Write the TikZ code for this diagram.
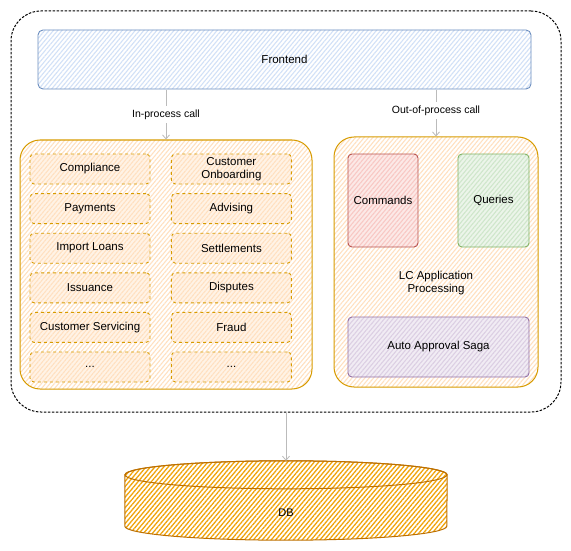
\documentclass[tikz,border=0pt]{standalone}
\usepackage{fontspec}
\setmainfont{Liberation Sans}
\usepackage{tikz}
\usetikzlibrary{patterns.meta}
\usetikzlibrary{arrows.meta}
\usetikzlibrary {positioning}
\definecolor{feline}{HTML}{6C8EBF}
\definecolor{fefill}{HTML}{D2E1F7}
\definecolor{orline}{HTML}{D79B00}
\definecolor{orfill}{HTML}{FFE0C0}
\definecolor{redline}{HTML}{B85450}
\definecolor{redfill}{HTML}{F8C8C4}
\definecolor{grline}{HTML}{82B366}
\definecolor{grfill}{HTML}{CFE6CB}
\definecolor{puline}{HTML}{9673A6}
\definecolor{pufill}{HTML}{DCCFE3}
\definecolor{dbline}{HTML}{BD7000}
\definecolor{dbfill}{HTML}{F0A30A}
\definecolor{callgray}{HTML}{BBBBBB}
\tikzset{hatch/.style={pattern={Lines[angle=50,distance=3.3pt,line width=1.1pt]},pattern color=#1}}
\tikzset{sketch node/.style 2 args={rectangle,rounded corners=4pt,draw=#1,line width=0.9pt,hatch=#2,preaction={fill=#2!40},inner sep=1pt,align=center,font=\fontsize{11.5}{13}\selectfont}}
\tikzset{module node/.style={sketch node={orline}{orfill},dashed,minimum width=120pt,minimum height=30pt}}
\tikzset{group node/.style={rectangle,rounded corners=20pt,draw=orline,line width=1pt,hatch=orfill,inner sep=0pt}}
\tikzset{call/.style={draw=callgray,line width=0.8pt,-{Straight Barb[length=4pt,width=7pt]}}}

\begin{document}
\begin{tikzpicture}[x=1pt,y=-1pt]
	\useasboundingbox (0,0) rectangle (571,551);
	\node[rectangle,rounded corners=30pt,draw,line width=1pt,dash pattern=on 2.5pt off 1.5pt,minimum width=550pt,minimum height=401pt] (system) at (286,211.5) {};
	\node[sketch node={feline}{fefill},rounded corners=5pt,minimum width=493pt,minimum height=59pt,preaction={fill=white}] (frontend) at (284.5,59.5) {Frontend};

	\node[group node,minimum width=292pt,minimum height=249pt] (inproc) at (166,264.5) {};
	\node[group node,minimum width=204pt,minimum height=250pt] (lcapp) at (436,262) {};

	% modules of the monolith
	\node[module node] (m_{1}) at (90,169) {Compliance};
	\node[module node] (m_{2}) [below = 8.7pt of m_{1}] {Payments};
	\node[module node] (m_{3}) [below = 8.7pt of m_{2}] {Import Loans};
	\node[module node] (m_{4}) [below = 8.7pt of m_{3}] {Issuance};
	\node[module node] (m_{5}) [below = 8.7pt of m_{4}] {Customer Servicing};
	\node[module node] (m_{6}) [below = 8.7pt of m_{5}] {...};
	\node[module node] (m_{7}) [right = 20.5pt of m_{1}] {Customer\\Onboarding};
	\node[module node] (m_{8}) [below = 8.7pt of m_{7}] {Advising};
	\node[module node] (m_{9}) [below = 8.7pt of m_{8}] {Settlements};
	\node[module node] (m_{10}) [below = 8.7pt of m_{9}] {Disputes};
	\node[module node] (m_{11}) [below = 8.7pt of m_{10}] {Fraud};
	\node[module node] (m_{12}) [below = 8.7pt of m_{11}] {...};

	% LC application service
	\node[sketch node={redline}{redfill},minimum width=70pt,minimum height=93pt] (commands) at (383,200.5) {Commands};
	\node[sketch node={grline}{grfill},minimum width=71pt,minimum height=93pt] (queries) at (493.5,200.5) {Queries};
	\node[align=center,font=\fontsize{11.5}{13}\selectfont] (lclabel) at (436,283) {LC Application\\Processing};
	\node[sketch node={puline}{pufill},minimum width=181pt,minimum height=60pt] (saga) at (438.5,347) {Auto Approval Saga};

	% database
	\node[rectangle,minimum width=322pt,minimum height=79pt,inner sep=0pt] (db) at (286,500.5) {};
	\path[draw=dbline,line width=1pt,pattern={Lines[angle=50,distance=3.4pt,line width=1.3pt]},pattern color=dbfill] ([yshift=-14pt]db.north west) -- ([yshift=14pt]db.south west) arc[start angle=180,end angle=360,x radius=161pt,y radius=14pt] -- ([yshift=-14pt]db.north east) arc[start angle=0,end angle=180,x radius=161pt,y radius=14pt] -- cycle;
	\draw[dbline,line width=1pt] ([yshift=-14pt]db.north) ellipse [x radius=161pt,y radius=14pt];
	\node[font=\fontsize{11}{13}\selectfont] (dblabel) at ([yshift=-12.5pt]db.center) {DB};

	\draw[call] (frontend.south -| inproc.north) -- node[fill=white,font=\fontsize{10.5}{12}\selectfont] {In-process call} (inproc.north);
	\draw[call] (frontend.south -| lcapp.north) -- node[fill=white,font=\fontsize{10.5}{12}\selectfont,pos=0.45] {Out-of-process call} (lcapp.north);
	\draw[call] (system.south) -- (db.north);
\end{tikzpicture}
\end{document}
